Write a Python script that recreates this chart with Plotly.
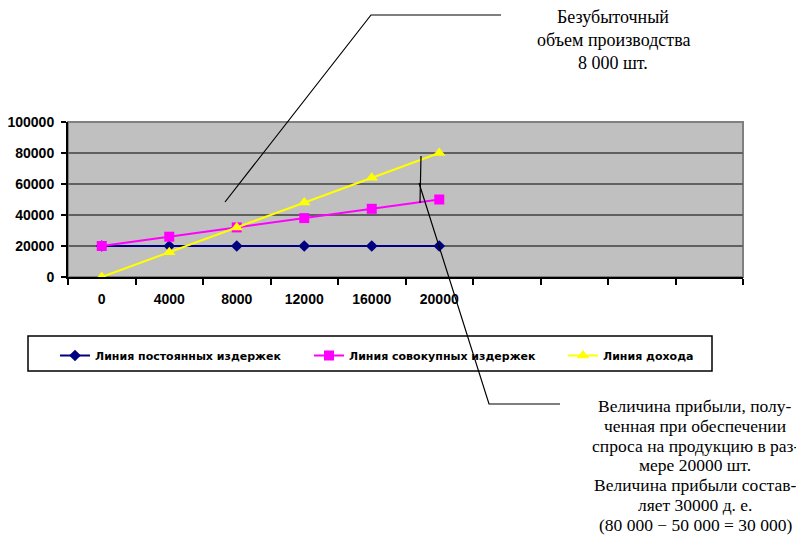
import plotly.graph_objects as go

# ---- data ----
volume = [0, 4000, 8000, 12000, 16000, 20000]
fixed_costs = [20000, 20000, 20000, 20000, 20000, 20000]
total_costs = [20000, 26000, 32000, 38000, 44000, 50000]
revenue = [0, 16000, 32000, 48000, 64000, 80000]
series_names = ["Линия постоянных издержек", "Линия совокупных издержек", "Линия дохода"]
y_ticks = [0, 20000, 40000, 60000, 80000, 100000]
x_slot_edges = [-2000 + 4000 * k for k in range(11)]
top_note = ["Безубыточный", "объем производства", "8 000 шт."]
bottom_note = ["Величина прибыли, полу-", "ченная при обеспечении", "спроса на продукцию в раз-",
               "мере 20000 шт.", "Величина прибыли состав-", "ляет 30000 д. е.",
               "(80 000 − 50 000 = 30 000)"]

PAGE_OFF = 8  # default body margin of the html page
W, H = 804 - PAGE_OFF, 536 - PAGE_OFF
L, R, T, B = 68, 743, 122, 277  # plot area in window pixels


def px(x):
    return (x - L) / (R - L)


def py(y):
    return (B - y) / (B - T)


fig = go.Figure()
fig.add_trace(go.Scatter(x=volume, y=fixed_costs, name=series_names[0], mode="lines+markers",
                         line=dict(color="#000080", width=2), legendwidth=209,
                         marker=dict(symbol="diamond", size=9, color="#000080")))
fig.add_trace(go.Scatter(x=volume, y=total_costs, name=series_names[1], mode="lines+markers",
                         line=dict(color="#FF00FF", width=2), legendwidth=209,
                         marker=dict(symbol="square", size=10, color="#FF00FF")))
fig.add_trace(go.Scatter(x=volume, y=revenue, name=series_names[2], mode="lines+markers",
                         line=dict(color="#FFFF00", width=2), legendwidth=100,
                         marker=dict(symbol="triangle-up", size=11, color="#FFFF00")))

axis_font = dict(family="Liberation Sans, Arial, sans-serif", size=14, color="black", weight="bold")

fig.update_layout(
    width=W, height=H,
    margin=dict(l=L - PAGE_OFF, r=804 - R, t=T - PAGE_OFF, b=536 - B, pad=0, autoexpand=False),
    paper_bgcolor="white",
    plot_bgcolor="#C0C0C0",
    showlegend=True,
    legend=dict(orientation="h", x=px(55), y=py(341), xanchor="left", yanchor="top",
                bgcolor="rgba(0,0,0,0)", borderwidth=0,
                font=dict(family="DejaVu Sans, sans-serif", size=11, color="black", weight="bold"),
                tracegroupgap=0),
    xaxis=dict(range=[-2000, 38000], tickvals=volume, ticktext=[str(v) for v in volume],
               ticks="", showgrid=False, zeroline=False, tickfont=axis_font,
               showline=True, linecolor="black", linewidth=2, ticklabelstandoff=8,
               minor=dict(tickvals=x_slot_edges, ticks="outside", ticklen=6, tickwidth=2,
                          tickcolor="black", showgrid=False)),
    yaxis=dict(range=[0, 100000], tickvals=y_ticks, ticktext=[str(v) for v in y_ticks],
               ticks="outside", ticklen=5, tickwidth=2, tickcolor="black",
               showgrid=True, gridcolor="#606060", gridwidth=2, zeroline=False,
               tickfont=axis_font, showline=True, linecolor="black", linewidth=2,
               ticklabelstandoff=4),
)

shapes = []
# plot border (top/right in grey)
shapes.append(dict(type="rect", xref="paper", yref="paper", x0=0, x1=1, y0=0, y1=1,
                   line=dict(color="#808080", width=2), layer="below"))
# thin black grid line at 40000
shapes.append(dict(type="line", xref="paper", yref="y", x0=0, x1=1, y0=40000, y1=40000,
                   line=dict(color="black", width=1), layer="below"))
# legend box
shapes.append(dict(type="rect", xref="paper", yref="paper", x0=px(28), x1=px(712),
                   y0=py(336), y1=py(371), line=dict(color="black", width=1.5),
                   fillcolor="rgba(0,0,0,0)"))
# leader line for break-even annotation
shapes.append(dict(type="path", xref="paper", yref="paper",
                   path=f"M{px(225)},{py(202)} L{px(371)},{py(15)} L{px(501)},{py(15)}",
                   line=dict(color="black", width=1.2)))
# leader lines for profit annotation
shapes.append(dict(type="line", xref="paper", yref="paper", x0=px(421), y0=py(156),
                   x1=px(420), y1=py(203), line=dict(color="black", width=1.2)))
shapes.append(dict(type="path", xref="paper", yref="paper",
                   path=f"M{px(419)},{py(183)} L{px(489)},{py(404)} L{px(560)},{py(404)}",
                   line=dict(color="black", width=1.2)))
fig.update_layout(shapes=shapes)

serif = dict(family="Liberation Serif, Times New Roman, serif", size=17.5, color="black")
for i, line in enumerate(top_note):
    fig.add_annotation(xref="paper", yref="paper", x=px(613), y=py(17 + 23 * i),
                       xanchor="center", yanchor="middle", showarrow=False,
                       font=dict(serif, size=18), text=line)
for i, line in enumerate(bottom_note):
    fig.add_annotation(xref="paper", yref="paper", x=px(695), y=py(406 + 19.8 * i),
                       xanchor="center", yanchor="middle", showarrow=False,
                       font=serif, text=line)

fig.write_html("out.html")
